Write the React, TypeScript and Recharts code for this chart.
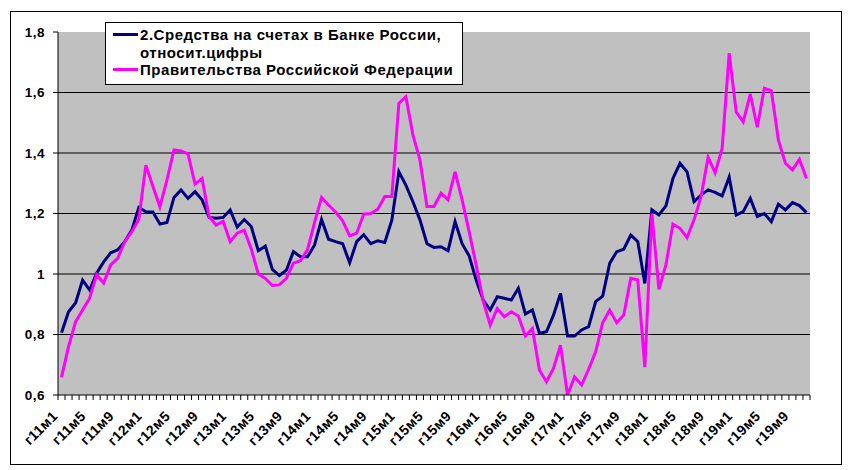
import React from 'react';
import { LineChart, Line, XAxis, YAxis, CartesianGrid, Legend } from 'recharts';

// monthly values, Jan 2011 .. Nov 2019
const bankAccounts = [
  0.806, 0.875, 0.904, 0.98, 0.947, 1.003, 1.04, 1.07, 1.08, 1.107, 1.145, 1.22,
  1.206, 1.205, 1.165, 1.17, 1.253, 1.278, 1.25, 1.272, 1.245, 1.187, 1.184, 1.187,
  1.212, 1.155, 1.18, 1.157, 1.077, 1.092, 1.015, 0.995, 1.013, 1.074, 1.057, 1.057,
  1.095, 1.18, 1.115, 1.107, 1.1, 1.037, 1.107, 1.13, 1.1, 1.11, 1.104, 1.178,
  1.338, 1.294, 1.239, 1.179, 1.1, 1.088, 1.09, 1.077, 1.173, 1.1, 1.06, 0.98,
  0.914, 0.881, 0.925, 0.92, 0.914, 0.953, 0.868, 0.881, 0.804, 0.809, 0.864, 0.936,
  0.795, 0.795, 0.815, 0.826, 0.909, 0.927, 1.035, 1.074, 1.082, 1.129, 1.107, 0.969,
  1.212, 1.195, 1.225, 1.316, 1.366, 1.338, 1.239, 1.261, 1.278, 1.27, 1.258, 1.32,
  1.195, 1.206, 1.25, 1.19, 1.2, 1.173, 1.231, 1.212, 1.236, 1.226, 1.203,
];

const government = [
  0.658, 0.76, 0.842, 0.881, 0.92, 0.997, 0.97, 1.03, 1.052, 1.107, 1.14, 1.18,
  1.36, 1.29, 1.222, 1.31, 1.41, 1.407, 1.397, 1.297, 1.316, 1.19, 1.162, 1.174,
  1.107, 1.135, 1.145, 1.083, 1.0, 0.985, 0.962, 0.964, 0.986, 1.036, 1.044, 1.08,
  1.17, 1.253, 1.228, 1.205, 1.176, 1.126, 1.135, 1.198, 1.2, 1.214, 1.256, 1.256,
  1.564, 1.586, 1.46, 1.377, 1.223, 1.223, 1.267, 1.245, 1.338, 1.245, 1.14, 1.03,
  0.91, 0.831, 0.886, 0.859, 0.875, 0.861, 0.795, 0.82, 0.683, 0.644, 0.688, 0.765,
  0.6, 0.66, 0.633, 0.685, 0.743, 0.839, 0.881, 0.839, 0.864, 0.986, 0.98, 0.692,
  1.2, 0.949, 1.03, 1.165, 1.151, 1.12, 1.179, 1.256, 1.386, 1.335, 1.415, 1.73,
  1.536, 1.503, 1.595, 1.485, 1.614, 1.606, 1.443, 1.366, 1.344, 1.379, 1.316,
];

const years = [11, 12, 13, 14, 15, 16, 17, 18, 19];
const yTicks = [0.6, 0.8, 1, 1.2, 1.4, 1.6, 1.8];
const gridValues = [0.8, 1, 1.2, 1.4, 1.6];
const legendLines = [
  ['2.Средства на счетах в Банке России,', 'относит.цифры'],
  ['Правительства Российской Федерации'],
];

const months: string[] = [];
years.forEach(y => {
  for (let m = 1; m <= 12; m++) months.push(`г${y}м${m}`);
});
const categories = months.slice(0, bankAccounts.length);

const data = categories.map((m, i) => ({ m, a: bankAccounts[i], b: government[i] }));

const W = 849;
const H = 470;
const margin = { top: 32, right: 39, bottom: 0, left: 0 };
const Y_W = 58;
const X_H = 75;
const plotW = W - margin.left - margin.right - Y_W;
const half = plotW / categories.length / 2;
const FONT = '"Liberation Sans", Arial, Helvetica, sans-serif';
const NAVY = '#000080';
const PINK = '#FF00FF';

function MonthTick(props: any) {
  const { x, y, payload } = props;
  const i = payload.index ?? props.index;
  const tx = x - 3;
  const ty = y + 22;
  return (
    <g>
      {i === 0 && <line x1={x - half} y1={y} x2={x - half} y2={y + 5} stroke="#000" />}
      <line x1={x + half} y1={y} x2={x + half} y2={y + 5} stroke="#000" />
      {i % 4 === 0 && (
        <text
          x={tx}
          y={ty}
          transform={`rotate(-45 ${tx} ${ty})`}
          textAnchor="end"
          fill="#000"
          fontSize={14}
          letterSpacing={0.4}
          fontWeight="bold"
          fontFamily={FONT}
        >
          {payload.value}
        </text>
      )}
    </g>
  );
}

function LegendBox() {
  const colors = [NAVY, PINK];
  let row = 0;
  return (
    <div style={{
      boxSizing: 'border-box', width: 358, height: 63, border: '1px solid #000', background: '#fff',
      position: 'relative', fontFamily: FONT, fontWeight: 'bold', fontSize: 15, letterSpacing: 0.55,
      lineHeight: '17.5px', color: '#000',
    }}>
      {legendLines.map((lines, k) => {
        const top = 3 + row * 17.5;
        row += lines.length;
        return (
          <React.Fragment key={k}>
            <div style={{ position: 'absolute', left: 7, top: top + 7, width: 25, height: 3, background: colors[k] }} />
            <div style={{ position: 'absolute', left: 34, top, whiteSpace: 'nowrap' }}>
              {lines.map((t, j) => <div key={j}>{t}</div>)}
            </div>
          </React.Fragment>
        );
      })}
    </div>
  );
}

export default function App() {
  return (
    <div style={{ position: 'absolute', left: 0, top: 0, width: W, height: H, background: '#fff' }}>
      <div style={{ position: 'absolute', left: 10, top: 11, width: 832, height: 454, boxSizing: 'border-box', border: '1px solid #000' }} />
      <div style={{ position: 'absolute', left: 0, top: 0 }}>
        <LineChart width={W} height={H} data={data} margin={margin}>
          <CartesianGrid vertical={false} horizontalValues={gridValues} stroke="#000" fill="#C0C0C0" fillOpacity={1} />
          <XAxis
            dataKey="m"
            interval={0}
            height={X_H}
            padding={{ left: half, right: half }}
            tick={<MonthTick />}
            tickLine={false}
            tickSize={0}
            tickMargin={0}
            axisLine={{ stroke: '#000' }}
          />
          <XAxis xAxisId="top" orientation="top" height={0} tick={false} tickLine={false} axisLine={{ stroke: '#808080' }} />
          <YAxis
            domain={[0.6, 1.8]}
            ticks={yTicks}
            interval={0}
            width={Y_W}
            allowDataOverflow
            tickSize={5}
            tickMargin={8}
            axisLine={{ stroke: '#000' }}
            tickLine={{ stroke: '#000' }}
            tick={{ fill: '#000', fontSize: 13.5, fontWeight: 'bold', fontFamily: FONT, letterSpacing: 0.5 }}
            tickFormatter={(v: number) => String(v).replace('.', ',')}
          />
          <YAxis yAxisId="right" orientation="right" width={0} tick={false} tickLine={false} axisLine={{ stroke: '#808080' }} />
          <Legend
            layout="vertical"
            align="center"
            verticalAlign="middle"
            content={() => <LegendBox />}
            wrapperStyle={{ left: 105, top: 22, width: 358, height: 63 }}
          />
          <Line dataKey="a" name={legendLines[0].join(' ')} stroke={NAVY} strokeWidth={3} dot={false} isAnimationActive={false} />
          <Line dataKey="b" name={legendLines[1][0]} stroke={PINK} strokeWidth={3} dot={false} isAnimationActive={false} />
        </LineChart>
      </div>
    </div>
  );
}
